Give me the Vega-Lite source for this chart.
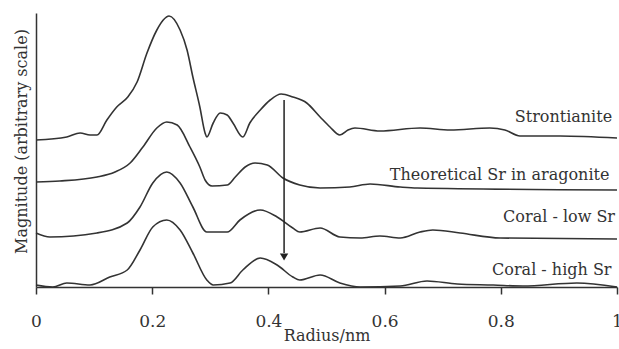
{
  "$schema": "https://vega.github.io/schema/vega-lite/v6.json",
  "width": 581,
  "height": 274,
  "autosize": {"type": "none"},
  "padding": {"left": 36, "top": 13, "right": 2, "bottom": 62},
  "background": "white",
  "config": {"view": {"stroke": null}, "font": "DejaVu Serif"},
  "datasets": {
    "curves": [
      {"s": "Strontianite", "r": 0, "m": 147},
      {"s": "Strontianite", "r": 0.053, "m": 150},
      {"s": "Strontianite", "r": 0.076, "m": 154},
      {"s": "Strontianite", "r": 0.093, "m": 152},
      {"s": "Strontianite", "r": 0.105, "m": 152},
      {"s": "Strontianite", "r": 0.122, "m": 167},
      {"s": "Strontianite", "r": 0.139, "m": 180},
      {"s": "Strontianite", "r": 0.158, "m": 190},
      {"s": "Strontianite", "r": 0.174, "m": 205},
      {"s": "Strontianite", "r": 0.191, "m": 234},
      {"s": "Strontianite", "r": 0.208, "m": 257},
      {"s": "Strontianite", "r": 0.219, "m": 267},
      {"s": "Strontianite", "r": 0.229, "m": 271},
      {"s": "Strontianite", "r": 0.248, "m": 257},
      {"s": "Strontianite", "r": 0.26, "m": 237},
      {"s": "Strontianite", "r": 0.27, "m": 210},
      {"s": "Strontianite", "r": 0.282, "m": 180},
      {"s": "Strontianite", "r": 0.291, "m": 154},
      {"s": "Strontianite", "r": 0.294, "m": 150},
      {"s": "Strontianite", "r": 0.305, "m": 164},
      {"s": "Strontianite", "r": 0.317, "m": 174},
      {"s": "Strontianite", "r": 0.329, "m": 172},
      {"s": "Strontianite", "r": 0.339, "m": 164},
      {"s": "Strontianite", "r": 0.356, "m": 150},
      {"s": "Strontianite", "r": 0.368, "m": 164},
      {"s": "Strontianite", "r": 0.386, "m": 177},
      {"s": "Strontianite", "r": 0.403, "m": 187},
      {"s": "Strontianite", "r": 0.422, "m": 193},
      {"s": "Strontianite", "r": 0.442, "m": 190},
      {"s": "Strontianite", "r": 0.466, "m": 184},
      {"s": "Strontianite", "r": 0.489, "m": 170},
      {"s": "Strontianite", "r": 0.506, "m": 160},
      {"s": "Strontianite", "r": 0.523, "m": 152},
      {"s": "Strontianite", "r": 0.537, "m": 157},
      {"s": "Strontianite", "r": 0.549, "m": 159},
      {"s": "Strontianite", "r": 0.592, "m": 156},
      {"s": "Strontianite", "r": 0.661, "m": 159},
      {"s": "Strontianite", "r": 0.713, "m": 157},
      {"s": "Strontianite", "r": 0.781, "m": 159},
      {"s": "Strontianite", "r": 0.807, "m": 157},
      {"s": "Strontianite", "r": 0.833, "m": 151},
      {"s": "Strontianite", "r": 0.902, "m": 151},
      {"s": "Strontianite", "r": 1.0, "m": 149},

      {"s": "Theoretical", "r": 0, "m": 105},
      {"s": "Theoretical", "r": 0.041, "m": 106},
      {"s": "Theoretical", "r": 0.105, "m": 110},
      {"s": "Theoretical", "r": 0.136, "m": 115},
      {"s": "Theoretical", "r": 0.162, "m": 124},
      {"s": "Theoretical", "r": 0.184, "m": 140},
      {"s": "Theoretical", "r": 0.208, "m": 159},
      {"s": "Theoretical", "r": 0.225, "m": 165},
      {"s": "Theoretical", "r": 0.243, "m": 162},
      {"s": "Theoretical", "r": 0.265, "m": 140},
      {"s": "Theoretical", "r": 0.282, "m": 120},
      {"s": "Theoretical", "r": 0.291, "m": 107},
      {"s": "Theoretical", "r": 0.303, "m": 101},
      {"s": "Theoretical", "r": 0.329, "m": 102},
      {"s": "Theoretical", "r": 0.343, "m": 110},
      {"s": "Theoretical", "r": 0.36, "m": 120},
      {"s": "Theoretical", "r": 0.377, "m": 124},
      {"s": "Theoretical", "r": 0.398, "m": 122},
      {"s": "Theoretical", "r": 0.425, "m": 109},
      {"s": "Theoretical", "r": 0.454, "m": 102},
      {"s": "Theoretical", "r": 0.489, "m": 99},
      {"s": "Theoretical", "r": 0.54, "m": 100},
      {"s": "Theoretical", "r": 0.575, "m": 103},
      {"s": "Theoretical", "r": 0.627, "m": 100},
      {"s": "Theoretical", "r": 0.656, "m": 99},
      {"s": "Theoretical", "r": 1.0, "m": 97},

      {"s": "Coral low", "r": 0, "m": 54},
      {"s": "Coral low", "r": 0.024, "m": 50},
      {"s": "Coral low", "r": 0.105, "m": 54},
      {"s": "Coral low", "r": 0.157, "m": 64},
      {"s": "Coral low", "r": 0.179, "m": 80},
      {"s": "Coral low", "r": 0.201, "m": 104},
      {"s": "Coral low", "r": 0.225, "m": 115},
      {"s": "Coral low", "r": 0.248, "m": 104},
      {"s": "Coral low", "r": 0.27, "m": 80},
      {"s": "Coral low", "r": 0.294, "m": 55},
      {"s": "Coral low", "r": 0.329, "m": 55},
      {"s": "Coral low", "r": 0.351, "m": 67},
      {"s": "Coral low", "r": 0.386, "m": 77},
      {"s": "Coral low", "r": 0.415, "m": 70},
      {"s": "Coral low", "r": 0.442, "m": 59},
      {"s": "Coral low", "r": 0.454, "m": 55},
      {"s": "Coral low", "r": 0.489, "m": 59},
      {"s": "Coral low", "r": 0.523, "m": 50},
      {"s": "Coral low", "r": 0.558, "m": 49},
      {"s": "Coral low", "r": 0.592, "m": 51},
      {"s": "Coral low", "r": 0.627, "m": 49},
      {"s": "Coral low", "r": 0.661, "m": 55},
      {"s": "Coral low", "r": 0.683, "m": 57},
      {"s": "Coral low", "r": 0.73, "m": 54},
      {"s": "Coral low", "r": 0.799, "m": 49},
      {"s": "Coral low", "r": 1.0, "m": 48},

      {"s": "Coral high", "r": 0, "m": 2},
      {"s": "Coral high", "r": 0.029, "m": 0},
      {"s": "Coral high", "r": 0.053, "m": 4},
      {"s": "Coral high", "r": 0.093, "m": 2},
      {"s": "Coral high", "r": 0.127, "m": 10},
      {"s": "Coral high", "r": 0.157, "m": 17},
      {"s": "Coral high", "r": 0.179, "m": 37},
      {"s": "Coral high", "r": 0.201, "m": 60},
      {"s": "Coral high", "r": 0.225, "m": 67},
      {"s": "Coral high", "r": 0.248, "m": 57},
      {"s": "Coral high", "r": 0.27, "m": 34},
      {"s": "Coral high", "r": 0.294, "m": 7},
      {"s": "Coral high", "r": 0.305, "m": 2},
      {"s": "Coral high", "r": 0.334, "m": 4},
      {"s": "Coral high", "r": 0.356, "m": 17},
      {"s": "Coral high", "r": 0.386, "m": 29},
      {"s": "Coral high", "r": 0.415, "m": 22},
      {"s": "Coral high", "r": 0.442, "m": 10},
      {"s": "Coral high", "r": 0.454, "m": 7},
      {"s": "Coral high", "r": 0.489, "m": 12},
      {"s": "Coral high", "r": 0.523, "m": 4},
      {"s": "Coral high", "r": 0.558, "m": 0},
      {"s": "Coral high", "r": 0.627, "m": 1},
      {"s": "Coral high", "r": 0.673, "m": 6},
      {"s": "Coral high", "r": 0.725, "m": 3},
      {"s": "Coral high", "r": 0.787, "m": 2},
      {"s": "Coral high", "r": 0.838, "m": 1},
      {"s": "Coral high", "r": 0.931, "m": 4},
      {"s": "Coral high", "r": 1.0, "m": 0}
    ],
    "labels": [
      {"label": "Strontianite", "r": 0.824, "m": 170},
      {"label": "Theoretical Sr in aragonite", "r": 0.609, "m": 112},
      {"label": "Coral - low Sr", "r": 0.804, "m": 70},
      {"label": "Coral - high Sr", "r": 0.785, "m": 17}
    ],
    "arrow": [
      {"r": 0.427, "top": 187, "bottom": 34, "tip": 30}
    ]
  },
  "layer": [
    {
      "data": {"name": "curves"},
      "mark": {"type": "line", "interpolate": "monotone", "color": "#333333", "strokeWidth": 1.6},
      "encoding": {
        "x": {
          "field": "r", "type": "quantitative",
          "scale": {"domain": [0, 1], "nice": false},
          "axis": {
            "values": [0, 0.2, 0.4, 0.6, 0.8, 1],
            "labelExpr": "datum.value === 0 ? '0' : datum.value === 1 ? '1' : format(datum.value, '.1f')",
            "grid": false,
            "domainColor": "#333333",
            "domainWidth": 1.5,
            "tickColor": "#333333",
            "tickSize": 7,
            "tickWidth": 1.5,
            "labelPadding": 19,
            "labelFontSize": 17,
            "labelColor": "#333333",
            "labelFont": "DejaVu Serif",
            "labelFlush": false,
            "title": "Radius/nm",
            "titleFont": "DejaVu Serif",
            "titleFontSize": 16,
            "titleFontWeight": "normal",
            "titleColor": "#333333",
            "titleBaseline": "alphabetic",
            "titleY": 53
          }
        },
        "y": {
          "field": "m", "type": "quantitative",
          "scale": {"domain": [0, 274], "nice": false, "zero": false},
          "axis": {
            "labels": false,
            "ticks": false,
            "grid": false,
            "domainColor": "#333333",
            "domainWidth": 1.5,
            "title": "Magnitude (arbitrary scale)",
            "titleFont": "DejaVu Serif",
            "titleFontSize": 16,
            "titleFontWeight": "normal",
            "titleColor": "#333333",
            "titleAngle": -90,
            "titleAlign": "center",
            "titleBaseline": "middle",
            "titleX": -15,
            "titleY": 128
          }
        },
        "detail": {"field": "s", "type": "nominal"}
      }
    },
    {
      "data": {"name": "arrow"},
      "mark": {"type": "rule", "color": "#222222", "strokeWidth": 1.5},
      "encoding": {
        "x": {"field": "r", "type": "quantitative"},
        "y": {"field": "top", "type": "quantitative"},
        "y2": {"field": "bottom"}
      }
    },
    {
      "data": {"name": "arrow"},
      "mark": {"type": "point", "shape": "triangle-down", "filled": true, "color": "#222222", "opacity": 1, "size": 70},
      "encoding": {
        "x": {"field": "r", "type": "quantitative"},
        "y": {"field": "tip", "type": "quantitative"}
      }
    },
    {
      "data": {"name": "labels"},
      "mark": {"type": "text", "align": "left", "baseline": "middle", "font": "DejaVu Serif", "fontSize": 16, "color": "#333333"},
      "encoding": {
        "x": {"field": "r", "type": "quantitative"},
        "y": {"field": "m", "type": "quantitative"},
        "text": {"field": "label"}
      }
    }
  ]
}
